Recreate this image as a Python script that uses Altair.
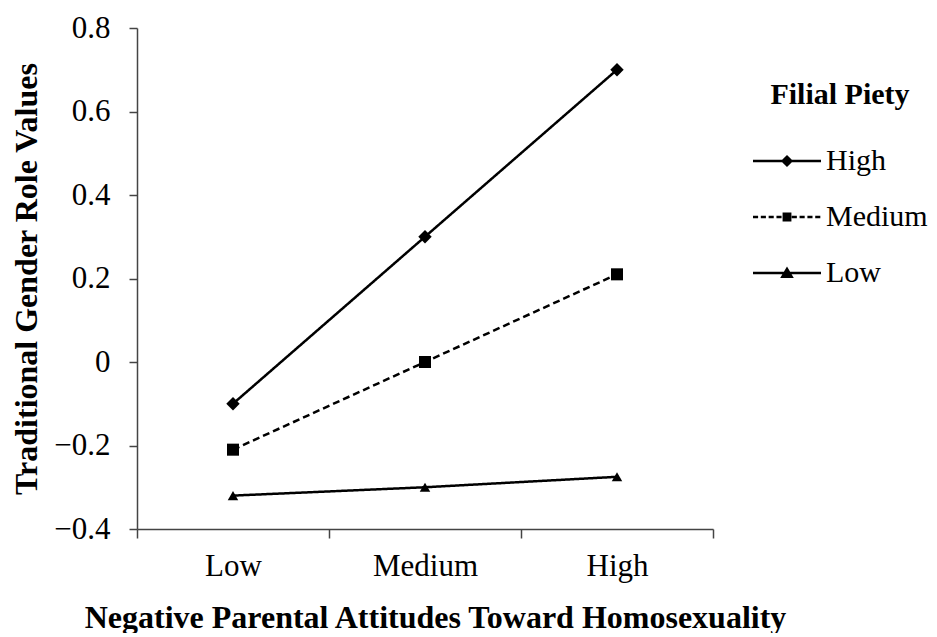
import altair as alt
import pandas as pd

# ---- data ----
parental_levels = ["Low", "Medium", "High"]
piety_levels = ["High", "Medium", "Low"]
high_piety = [-0.10, 0.30, 0.70]
medium_piety = [-0.21, 0.00, 0.21]
low_piety = [-0.32, -0.30, -0.275]
y_ticks = [-0.4, -0.2, 0, 0.2, 0.4, 0.6, 0.8]

rows = []
for grp, vals in zip(piety_levels, [high_piety, medium_piety, low_piety]):
    for lvl, v in zip(parental_levels, vals):
        rows.append({"parent": lvl, "piety": grp, "value": v})
df = pd.DataFrame(rows)

FONT = "Liberation Serif"

# legend symbols: a line (thin filled bars) with a marker in the middle, unit box -1..1
HW = 0.037  # half line thickness in unit coords

def bar(x0, x1):
    return f"M{x0:.3f},{-HW}H{x1:.3f}V{HW}H{x0:.3f}Z"

def dashed(x0, x1, dash=0.15, gap=0.08):
    segs = []
    x = x0
    while x < x1:
        e = min(x + dash, x1)
        segs.append(bar(x, e))
        x = e + gap
    return "".join(segs)

path_high = bar(-1, 1) + "M0,-0.18L0.18,0L0,0.18L-0.18,0Z"
path_med = dashed(-1, -0.12) + dashed(0.14, 1) + "M-0.13,-0.13H0.13V0.13H-0.13Z"
path_low = bar(-1, 1) + "M0,-0.19L0.2,0.15L-0.2,0.15Z"
SYM = 68 * 68

x_enc = alt.X(
    "parent:N",
    sort=parental_levels,
    scale=alt.Scale(domain=parental_levels, paddingInner=0, paddingOuter=0),
    axis=alt.Axis(
        title="Negative Parental Attitudes Toward Homosexuality",
        labelAngle=0,
        tickBand="extent",
        tickSize=9,
        labelPadding=13,
        titlePadding=21,
        titleX=298,
        grid=False,
    ),
)
y_enc = alt.Y(
    "value:Q",
    scale=alt.Scale(domain=[-0.4, 0.8], nice=False, zero=False),
    axis=alt.Axis(
        title="Traditional Gender Role Values",
        values=y_ticks,
        format="~g",
        tickSize=8,
        labelPadding=19,
        titlePadding=10,
        grid=False,
    ),
)

lines = alt.Chart(df).mark_line(color="black", strokeWidth=2.5).encode(
    x=x_enc,
    y=y_enc,
    detail="piety:N",
    strokeDash=alt.StrokeDash(
        "piety:N",
        scale=alt.Scale(domain=piety_levels, range=[[1, 0], [7, 4], [1, 0]]),
        legend=None,
    ),
)

points = alt.Chart(df).mark_point(filled=True, color="black", opacity=1).encode(
    x=x_enc,
    y=y_enc,
    shape=alt.Shape(
        "piety:N",
        scale=alt.Scale(domain=piety_levels, range=["diamond", "square", "triangle-up"]),
        legend=None,
    ),
    size=alt.Size(
        "piety:N",
        scale=alt.Scale(domain=piety_levels, range=[180, 110, 180]),
        legend=None,
    ),
)

# legend-only layer: no rows survive the filter, the explicit domain feeds the legend
legend_layer = (
    alt.Chart(df)
    .transform_filter("false")
    .mark_point(filled=True, color="black", opacity=1, size=SYM)
    .encode(
        x=x_enc,
        y=y_enc,
        shape=alt.Shape(
            "piety:N",
            scale=alt.Scale(domain=piety_levels, range=[path_high, path_med, path_low]),
            legend=alt.Legend(
                title="Filial Piety",
                orient="none",
                legendX=615,
                legendY=52,
                titleAnchor="middle",
                titlePadding=16,
                rowPadding=6,
                padding=0,
                symbolSize=SYM,
                labelOffset=4,
                symbolFillColor="black",
                symbolOpacity=1,
            ),
        ),
    )
)

chart = (
    alt.layer(lines, points, legend_layer)
    .resolve_scale(shape="independent")
    .resolve_legend(shape="independent")
    .properties(width=576, height=501, padding={"left": 2, "top": 4, "right": 0, "bottom": 0})
    .configure_view(stroke=None)
    .configure_axis(
        labelFont=FONT,
        titleFont=FONT,
        labelFontSize=31,
        titleFontSize=32,
        labelColor="black",
        titleColor="black",
        titleFontWeight="bold",
        domainColor="#444444",
        tickColor="#444444",
        domainWidth=1.5,
        tickWidth=1.5,
    )
    .configure_legend(
        labelFont=FONT,
        titleFont=FONT,
        labelFontSize=30,
        titleFontSize=30,
        labelColor="black",
        titleColor="black",
        titleFontWeight="bold",
    )
)

chart.save("out.html", embed_options={"renderer": "svg", "actions": False})
